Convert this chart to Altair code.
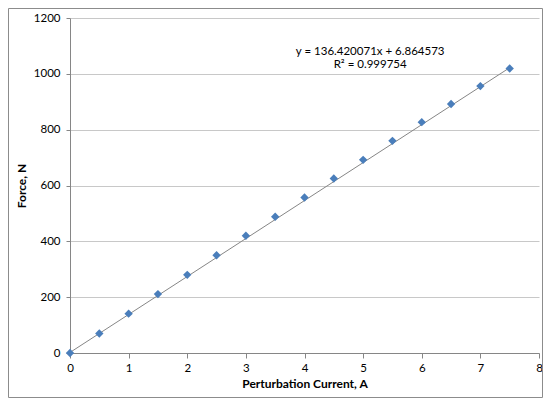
import altair as alt
import pandas as pd

current = [0, 0.5, 1, 1.5, 2, 2.5, 3, 3.5, 4, 4.5, 5, 5.5, 6, 6.5, 7, 7.5]
force = [0, 70, 141, 211, 280, 350, 420, 488, 557, 625, 692, 760, 827, 892, 956, 1019]

trend_x = [0, 7.5]
trend_y = [2, 1022]

eq_text = ["y = 136.420071x + 6.864573", "R² = 0.999754"]
eq_x = [5.12, 5.12]
eq_y = [1079, 1032]

x_ticks = [0, 1, 2, 3, 4, 5, 6, 7, 8]
y_ticks = [0, 200, 400, 600, 800, 1000, 1200]

W, H = 469, 335
FONT = "Lato"

pts = pd.DataFrame({"x": current, "y": force})
trend = pd.DataFrame({"x": trend_x, "y": trend_y})
eq = pd.DataFrame({"x": eq_x, "y": eq_y, "t": eq_text})

xscale = alt.Scale(domain=[0, 8], nice=False, zero=False)
yscale = alt.Scale(domain=[0, 1200], nice=False)

xaxis = alt.Axis(values=x_ticks, format="d", title="Perturbation Current, A", grid=False,
                 tickSize=5, labelPadding=4, titlePadding=5, labelFlush=False)
yaxis = alt.Axis(values=y_ticks, format="d", title="Force, N", grid=True,
                 tickSize=4, labelPadding=6, titlePadding=5, labelFlush=False)

base_line = alt.Chart(trend).mark_line(color="#868686", strokeWidth=1).encode(
    x=alt.X("x:Q", scale=xscale, axis=xaxis),
    y=alt.Y("y:Q", scale=yscale, axis=yaxis),
)

points = alt.Chart(pts).mark_point(shape="diamond", filled=True, size=70,
                                   color="#4a7ebb", opacity=1).encode(
    x=alt.X("x:Q", scale=xscale),
    y=alt.Y("y:Q", scale=yscale),
)

text = alt.Chart(eq).mark_text(font=FONT, fontSize=11.5, color="#000000",
                               align="center", baseline="middle").encode(
    x=alt.X("x:Q", scale=xscale),
    y=alt.Y("y:Q", scale=yscale),
    text="t:N",
)

frame = alt.Chart(pd.DataFrame({"a": [0]})).mark_rect(
    fill=None, stroke="#8c8c8c", strokeWidth=1
).encode(
    x=alt.value(-61.5), x2=alt.value(W + 3.5),
    y=alt.value(-9.5), y2=alt.value(H + 44.5),
)

chart = alt.layer(base_line, points, text, frame).properties(
    width=W, height=H,
    autosize=alt.AutoSizeParams(type="none"),
    padding={"left": 62, "top": 10, "right": 4, "bottom": 45},
).configure_view(stroke=None).configure_axis(
    labelFont=FONT, titleFont=FONT, labelFontSize=11.5, titleFontSize=12,
    titleFontWeight="bold", labelColor="#000000", titleColor="#000000",
    domainColor="#868686", tickColor="#868686", gridColor="#c8c8c8",
    domainWidth=1, tickWidth=1, gridWidth=1,
)

chart.save("out.html", embed_options={"renderer": "svg", "actions": False})
